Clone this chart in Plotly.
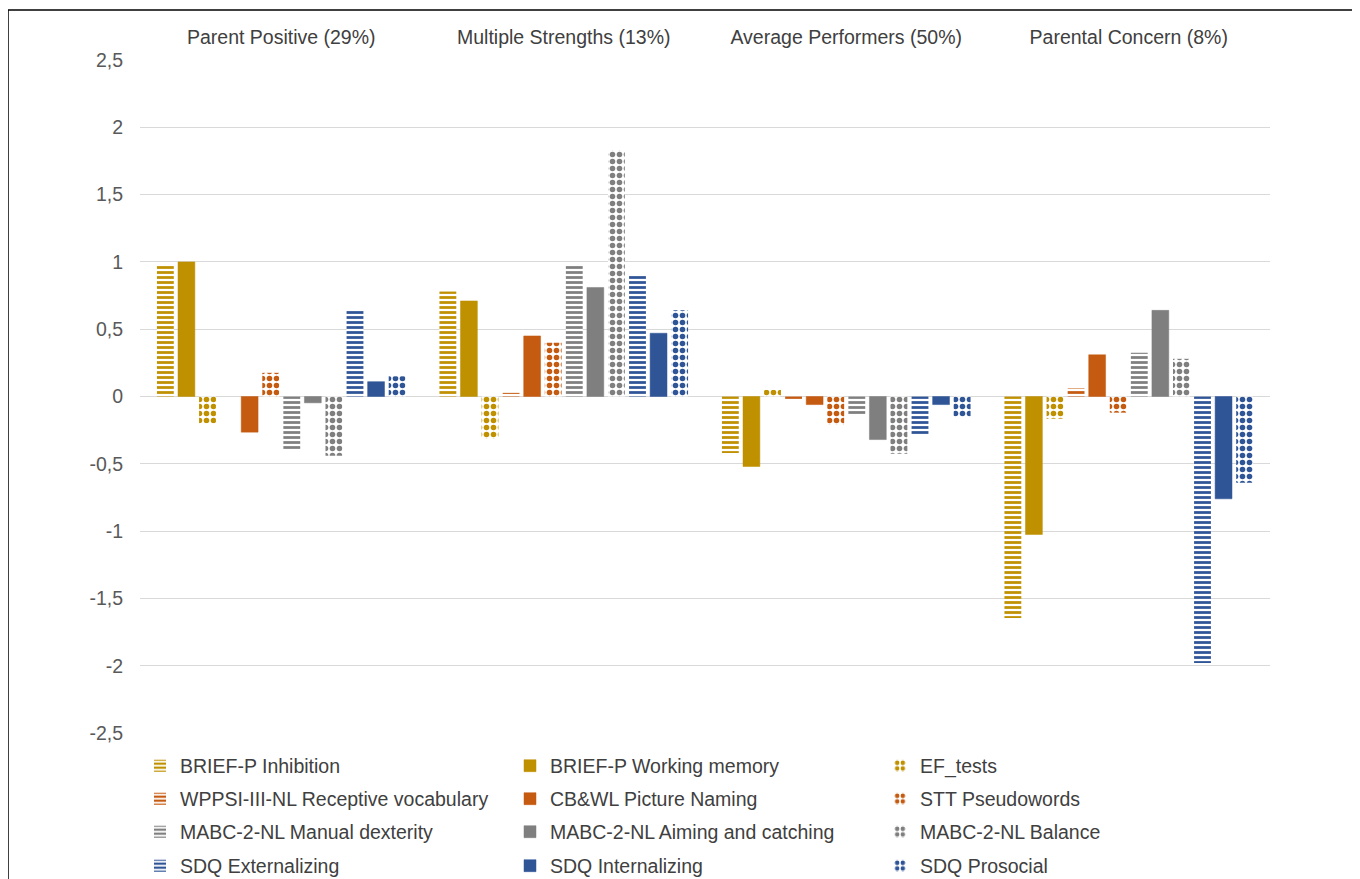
import plotly.graph_objects as go

categories = ["Parent Positive (29%)", "Multiple Strengths (13%)", "Average Performers (50%)", "Parental Concern (8%)"]

series_names = [
    "BRIEF-P Inhibition", "BRIEF-P Working memory", "EF_tests",
    "WPPSI-III-NL Receptive vocabulary", "CB&WL Picture Naming", "STT Pseudowords",
    "MABC-2-NL Manual dexterity", "MABC-2-NL Aiming and catching", "MABC-2-NL Balance",
    "SDQ Externalizing", "SDQ Internalizing", "SDQ Prosocial",
]

brief_inhibition = [0.98, 0.78, -0.42, -1.645]
brief_wm = [1.00, 0.71, -0.52, -1.025]
ef_tests = [-0.20, -0.315, 0.05, -0.165]
wppsi_vocab = [0.0, 0.027, -0.025, 0.06]
cbwl_naming = [-0.265, 0.45, -0.06, 0.31]
stt_pseudo = [0.176, 0.40, -0.21, -0.12]
mabc_manual = [-0.40, 0.985, -0.14, 0.325]
mabc_aiming = [-0.047, 0.81, -0.32, 0.64]
mabc_balance = [-0.44, 1.83, -0.425, 0.28]
sdq_ext = [0.65, 0.91, -0.28, -1.98]
sdq_int = [0.11, 0.47, -0.06, -0.76]
sdq_pros = [0.15, 0.64, -0.15, -0.64]

series_values = [brief_inhibition, brief_wm, ef_tests, wppsi_vocab, cbwl_naming, stt_pseudo,
                 mabc_manual, mabc_aiming, mabc_balance, sdq_ext, sdq_int, sdq_pros]

tick_vals = [-2.5, -2, -1.5, -1, -0.5, 0, 0.5, 1, 1.5, 2, 2.5]
tick_text = ["-2,5", "-2", "-1,5", "-1", "-0,5", "0", "0,5", "1", "1,5", "2", "2,5"]

colors = ["#BF9000", "#C55A11", "#7F7F7F", "#2F5597"]
styles = ["lines", "solid", "checks"]

FONT = "Liberation Sans, Arial"
FS = 19.5

fig = go.Figure()
for i, (name, vals) in enumerate(zip(series_names, series_values)):
    col = colors[i // 3]
    style = styles[i % 3]
    legend_id = "legend" if i // 3 == 0 else f"legend{i // 3 + 1}"
    if style == "solid":
        marker = dict(color=col, line=dict(color=col, width=0.5))
    elif style == "lines":
        marker = dict(color=col, line=dict(color="rgba(255,255,255,0)", width=0),
                      pattern=dict(shape="-", fgcolor=col, bgcolor="white", fillmode="replace",
                                   size=5, solidity=0.55))
    else:
        marker = dict(color=col, line=dict(color="rgba(255,255,255,0)", width=0),
                      pattern=dict(shape=".", fgcolor=col, bgcolor="white", fillmode="replace",
                                   size=7, solidity=0.5))
    fig.add_trace(go.Bar(x=categories, y=vals, name=name, marker=marker, legend=legend_id))

# page body has an 8px margin; figure sized so the page does not overflow
OFF = 8
W, H = 1360 - OFF, 879 - OFF
L, T = 140 - OFF, 60 - OFF
R = W - (1270 - OFF)
B = H - (733 - OFF)
pw, ph = W - L - R, H - T - B

def px_x(sx):
    return (sx - OFF - L) / pw

def px_y(sy):
    return (H - B - (sy - OFF)) / ph

legend_common = dict(orientation="h", xanchor="left", yanchor="middle", entrywidth=325,
                     entrywidthmode="pixels", font=dict(family=FONT, size=FS, color="#404040"),
                     bgcolor="rgba(0,0,0,0)", traceorder="normal")
row_y = [766, 799, 832, 866]
leg_x = px_x(140)

fig.update_layout(
    width=W, height=H,
    margin=dict(l=L, r=R, t=T, b=B, autoexpand=False),
    paper_bgcolor="white", plot_bgcolor="white",
    barmode="group", bargap=0.105, bargroupgap=0.2,
    font=dict(family=FONT, size=FS, color="#404040"),
    separators=",.",
    legend=dict(**legend_common, x=leg_x, y=px_y(row_y[0])),
    legend2=dict(**legend_common, x=leg_x, y=px_y(row_y[1])),
    legend3=dict(**legend_common, x=leg_x, y=px_y(row_y[2])),
    legend4=dict(**legend_common, x=leg_x, y=px_y(row_y[3])),
    xaxis=dict(side="top", showgrid=False, showline=False, ticks="", ticklabelstandoff=11,
               tickfont=dict(size=FS, color="#404040")),
    yaxis=dict(range=[-2.5, 2.5], tickvals=tick_vals, ticktext=tick_text, showgrid=True,
               gridcolor="#D9D9D9", gridwidth=1.3, zeroline=True, zerolinecolor="#D9D9D9", zerolinewidth=1.3,
               showline=False, ticks="", ticklabelstandoff=16, tickfont=dict(size=FS, color="#595959")),
    shapes=[
        dict(type="line", xref="paper", yref="paper", x0=px_x(8), x1=px_x(8), y0=px_y(10), y1=px_y(900),
             line=dict(color="black", width=1.5)),
        dict(type="line", xref="paper", yref="paper", x0=px_x(8), x1=px_x(1355), y0=px_y(10), y1=px_y(10),
             line=dict(color="black", width=1.5)),
        dict(type="line", xref="paper", yref="paper", x0=px_x(1355), x1=px_x(1355), y0=px_y(10), y1=px_y(900),
             line=dict(color="#808080", width=2)),
    ],
)

fig.write_html("out.html")
